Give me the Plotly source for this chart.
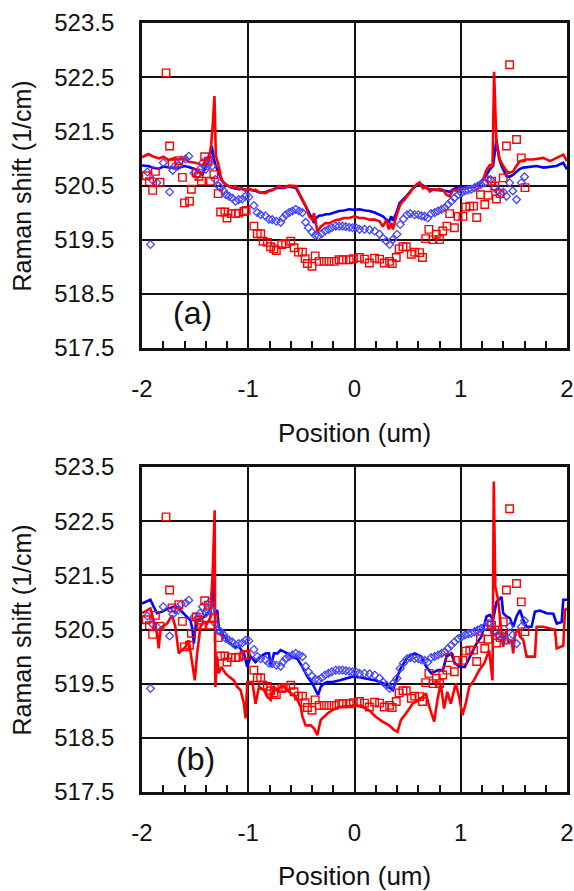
import plotly.graph_objects as go

# ---------------- data ----------------
# panel (a) red line
ra_x = [-2.0, -1.97, -1.94, -1.9, -1.84, -1.8, -1.75, -1.7, -1.65, -1.6, -1.56, -1.5, -1.46, -1.43, -1.40, -1.37,
        -1.35, -1.335, -1.318, -1.305, -1.29, -1.277, -1.26, -1.245, -1.22, -1.198, -1.17, -1.151, -1.12, -1.088,
        -1.06, -1.025, -0.99, -0.962, -0.93, -0.899, -0.87, -0.836, -0.80, -0.774, -0.74, -0.711, -0.68, -0.648,
        -0.62, -0.585, -0.553, -0.522, -0.491, -0.459, -0.428, -0.396, -0.381, -0.349, -0.318, -0.29, -0.270,
        -0.24, -0.208, -0.18, -0.145, -0.1, -0.05, 0.0, 0.044, 0.09, 0.142, 0.19, 0.236, 0.267, 0.299, 0.324,
        0.346, 0.362, 0.393, 0.425, 0.45, 0.472, 0.50, 0.519, 0.55, 0.582, 0.613, 0.645, 0.676, 0.708, 0.74,
        0.770, 0.80, 0.833, 0.865, 0.896, 0.928, 0.96, 0.991, 1.04, 1.085, 1.12, 1.148, 1.18, 1.211, 1.242,
        1.274, 1.299, 1.314, 1.336, 1.368, 1.399, 1.447, 1.494, 1.52, 1.557, 1.619, 1.682, 1.73, 1.777, 1.840,
        1.903, 1.965, 2.0]
ra_y = [521.02, 521.05, 521.08, 521.04, 521.0, 521.03, 520.97, 521.0, 520.98, 521.0, 520.94, 520.92, 520.9,
        520.86, 520.98, 521.0, 521.23, 521.6, 522.15, 521.05, 520.95, 520.86, 520.68, 520.58, 520.53, 520.5,
        520.47, 520.46, 520.49, 520.43, 520.45, 520.40, 520.44, 520.41, 520.42, 520.38, 520.37, 520.36, 520.40,
        520.41, 520.45, 520.49, 520.46, 520.47, 520.5, 520.49, 520.49, 520.36, 520.24, 520.12, 519.93, 519.87,
        519.99, 519.65, 519.74, 519.78, 519.81, 519.8, 519.84, 519.86, 519.87, 519.9, 519.9, 519.93, 519.9,
        519.9, 519.87, 519.87, 519.84, 519.74, 519.86, 519.69, 519.81, 519.69, 519.93, 520.12, 520.2, 520.24,
        520.32, 520.36, 520.45, 520.52, 520.56, 520.45, 520.48, 520.39, 520.43, 520.42, 520.44, 520.42, 520.33,
        520.30, 520.42, 520.4, 520.45, 520.44, 520.48, 520.47, 520.5, 520.55, 520.61, 520.79, 520.88, 520.85,
        522.6, 521.29, 520.98, 520.86, 520.73, 520.76, 520.85, 520.95, 520.98, 520.98, 521.0, 521.01, 520.95,
        521.01, 521.07, 520.95]

# panel (a) blue line
ba_x = [-2.0, -1.97, -1.94, -1.9, -1.84, -1.8, -1.75, -1.7, -1.65, -1.6, -1.56, -1.5, -1.46, -1.43, -1.40, -1.37,
        -1.343, -1.325, -1.305, -1.277, -1.25, -1.23, -1.2, -1.151, -1.12, -1.088, -1.06, -1.025, -0.99, -0.962,
        -0.93, -0.899, -0.87, -0.836, -0.8, -0.774, -0.74, -0.711, -0.68, -0.648, -0.62, -0.585, -0.553, -0.522,
        -0.491, -0.459, -0.428, -0.396, -0.381, -0.36, -0.334, -0.3, -0.27, -0.24, -0.2, -0.145, -0.1, -0.05,
        0.0, 0.047, 0.1, 0.142, 0.19, 0.236, 0.267, 0.299, 0.324, 0.346, 0.362, 0.393, 0.425, 0.487, 0.519,
        0.55, 0.582, 0.613, 0.645, 0.676, 0.708, 0.77, 0.833, 0.865, 0.896, 0.928, 0.959, 1.0, 1.085, 1.15,
        1.211, 1.242, 1.274, 1.305, 1.336, 1.36, 1.384, 1.431, 1.46, 1.494, 1.55, 1.588, 1.65, 1.714, 1.78,
        1.84, 1.9, 1.965, 2.0]
ba_y = [520.87, 520.86, 520.86, 520.83, 520.81, 520.85, 520.84, 520.82, 520.83, 520.86, 520.84, 520.8, 520.74,
        520.7, 520.85, 520.98, 521.23, 521.0, 520.86, 520.73, 520.6, 520.55, 520.5, 520.46, 520.45, 520.43,
        520.44, 520.42, 520.43, 520.42, 520.4, 520.37, 520.38, 520.38, 520.41, 520.42, 520.45, 520.46, 520.45,
        520.47, 520.48, 520.47, 520.46, 520.35, 520.24, 520.12, 520.0, 519.87, 519.81, 519.9, 519.94, 519.95,
        519.97, 519.97, 520.0, 520.03, 520.04, 520.06, 520.05, 520.06, 520.04, 520.03, 520.0, 519.96, 519.93,
        519.87, 519.83, 519.93, 519.85, 519.99, 520.18, 520.3, 520.38, 520.45, 520.49, 520.54, 520.5, 520.45,
        520.43, 520.42, 520.41, 520.4, 520.38, 520.43, 520.46, 520.46, 520.47, 520.5, 520.61, 520.7, 520.8,
        520.86, 521.35, 521.0, 520.86, 520.67, 520.66, 520.7, 520.8, 520.83, 520.84, 520.86, 520.83, 520.84,
        520.86, 520.92, 520.8]

# panel (b) red line
rb_x = [-2.0, -1.969, -1.921, -1.89, -1.858, -1.843, -1.825, -1.811, -1.764, -1.717, -1.686, -1.654, -1.623,
        -1.591, -1.56, -1.528, -1.503, -1.481, -1.45, -1.418, -1.387, -1.355, -1.333, -1.316, -1.31, -1.292,
        -1.277, -1.252, -1.214, -1.182, -1.135, -1.104, -1.072, -1.041, -1.025, -1.009, -0.962, -0.931, -0.899,
        -0.852, -0.821, -0.789, -0.758, -0.726, -0.679, -0.616, -0.553, -0.506, -0.49, -0.46, -0.412, -0.38,
        -0.35, -0.318, -0.286, -0.255, -0.208, -0.145, -0.082, 0.0, 0.075, 0.138, 0.2, 0.264, 0.327, 0.374,
        0.405, 0.437, 0.484, 0.547, 0.61, 0.673, 0.704, 0.75, 0.78, 0.811, 0.843, 0.874, 0.906, 0.953, 0.984,
        1.016, 1.047, 1.079, 1.126, 1.173, 1.22, 1.267, 1.299, 1.311, 1.325, 1.352, 1.37, 1.399, 1.431, 1.447,
        1.478, 1.494, 1.51, 1.541, 1.557, 1.588, 1.62, 1.651, 1.698, 1.714, 1.777, 1.84, 1.887, 1.903, 1.965,
        1.981, 2.0]
rb_y = [520.8, 520.83, 520.89, 520.67, 520.43, 520.15, 520.5, 520.55, 520.61, 520.76, 520.55, 520.06, 520.12,
        520.18, 520.3, 519.93, 519.56, 520.06, 520.55, 520.64, 520.61, 520.73, 521.66, 522.7, 519.44, 520.0,
        519.69, 519.81, 519.69, 519.63, 519.56, 519.44, 519.38, 519.13, 518.86, 519.53, 519.53, 519.13, 519.44,
        519.38, 519.26, 519.2, 519.44, 519.38, 519.47, 519.35, 519.26, 519.07, 518.89, 518.73, 518.73, 518.67,
        518.55, 518.83, 518.89, 518.95, 519.01, 519.07, 519.08, 519.1, 519.07, 519.01, 518.89, 518.8, 518.73,
        518.64, 518.61, 518.83, 518.95, 519.13, 519.2, 519.32, 519.07, 518.8, 519.2, 519.5, 519.04, 519.35,
        519.13, 519.5, 519.26, 518.92, 519.13, 519.44, 519.57, 519.75, 519.87, 520.12, 519.56, 523.23, 521.3,
        521.04, 520.7, 520.18, 520.49, 520.24, 520.31, 520.06, 520.43, 520.49, 520.37, 520.31, 520.0, 520.0,
        520.0, 520.55, 520.55, 520.52, 520.5, 520.15, 520.2, 520.86, 520.89]

# panel (b) blue line
bb_x = [-2.0, -1.969, -1.921, -1.89, -1.858, -1.811, -1.748, -1.686, -1.639, -1.591, -1.544, -1.525, -1.512,
        -1.49, -1.434, -1.387, -1.355, -1.333, -1.314, -1.292, -1.277, -1.245, -1.198, -1.135, -1.088, -1.041,
        -1.009, -0.978, -0.931, -0.883, -0.836, -0.805, -0.789, -0.758, -0.726, -0.695, -0.664, -0.632, -0.6,
        -0.537, -0.491, -0.443, -0.396, -0.365, -0.343, -0.318, -0.286, -0.255, -0.208, -0.145, -0.082, -0.02,
        0.044, 0.11, 0.2, 0.267, 0.33, 0.362, 0.425, 0.503, 0.566, 0.629, 0.676, 0.723, 0.786, 0.833, 0.865,
        0.912, 0.943, 0.991, 1.038, 1.085, 1.148, 1.195, 1.242, 1.274, 1.305, 1.336, 1.384, 1.399, 1.431,
        1.462, 1.494, 1.525, 1.557, 1.588, 1.619, 1.667, 1.698, 1.745, 1.808, 1.871, 1.903, 1.95, 1.965, 2.0]
bb_y = [520.98, 521.01, 521.05, 520.92, 520.8, 520.83, 520.89, 520.93, 520.86, 520.76, 520.67, 520.5, 520.24,
        520.67, 520.7, 520.79, 520.86, 521.4, 520.79, 520.86, 520.55, 520.43, 520.3, 520.18, 520.18, 520.06,
        519.81, 520.0, 519.9, 520.0, 520.06, 520.06, 519.81, 520.06, 520.06, 520.12, 520.09, 520.06, 520.0,
        519.96, 519.81, 519.63, 519.5, 519.38, 519.29, 519.44, 519.5, 519.53, 519.53, 519.56, 519.6, 519.63,
        519.62, 519.6, 519.56, 519.51, 519.42, 519.38, 519.75, 520.0, 520.06, 520.0, 519.81, 519.69, 519.75,
        519.75, 520.0, 520.06, 519.88, 519.81, 519.81, 520.0, 520.24, 520.37, 520.74, 520.77, 520.68, 521.01,
        521.1, 520.8, 520.74, 520.71, 520.55, 520.74, 520.86, 520.68, 520.55, 520.55, 520.83, 520.85, 520.8,
        520.79, 520.61, 520.64, 521.05, 521.05]

# red open squares (same in both panels)
sq_x = [-1.96, -1.93, -1.90, -1.874, -1.83, -1.774, -1.74, -1.717, -1.654, -1.62, -1.60, -1.553, -1.535, -1.49,
        -1.465, -1.44, -1.41, -1.377, -1.355, -1.324, -1.283, -1.26, -1.22, -1.2, -1.16, -1.12, -1.09, -1.04,
        -1.02, -0.947, -0.915, -0.883, -0.86, -0.82, -0.79, -0.758, -0.736, -0.685, -0.648, -0.6, -0.569,
        -0.528, -0.49, -0.465, -0.443, -0.4, -0.37, -0.333, -0.286, -0.24, -0.192, -0.145, -0.108, -0.05,
        -0.01, 0.047, 0.094, 0.14, 0.189, 0.236, 0.28, 0.33, 0.355, 0.393, 0.42, 0.456, 0.487, 0.535, 0.566,
        0.613, 0.64, 0.67, 0.70, 0.74, 0.77, 0.8, 0.83, 0.87, 0.896, 0.94, 0.975, 1.02, 1.047, 1.085, 1.12,
        1.15, 1.186, 1.226, 1.258, 1.29, 1.32, 1.336, 1.37, 1.4, 1.43, 1.46, 1.525, 1.57, 1.604]
sq_y = [520.68, 520.57, 520.41, 520.76, 520.56, 522.58, 521.23, 520.9, 520.96, 520.65, 520.18, 520.21, 520.43,
        520.73, 520.67, 520.58, 521.03, 520.95, 520.58, 520.7, 520.35, 520.01, 520.01, 519.9, 519.98, 519.98,
        519.99, 520.02, 520.04, 519.75, 519.61, 519.61, 519.47, 519.45, 519.37, 519.33, 519.3, 519.41, 519.43,
        519.47, 519.35, 519.27, 519.27, 519.15, 519.06, 519.01, 519.2, 519.1, 519.1, 519.1, 519.1, 519.13,
        519.13, 519.13, 519.15, 519.17, 519.14, 519.07, 519.16, 519.14, 519.07, 519.1, 519.06, 519.17, 519.33,
        519.37, 519.37, 519.23, 519.27, 519.26, 519.17, 519.52, 519.69, 519.5, 519.6, 519.5, 519.66, 519.75,
        519.98, 519.72, 519.93, 519.93, 520.1, 520.12, 520.12, 519.91, 520.33, 520.15, 520.32, 520.58, 520.49,
        520.25, 520.35, 520.64, 521.23, 522.73, 521.35, 521.01, 520.46]

# blue open diamonds (same in both panels)
dm_x = [-1.95, -1.92, -1.9, -1.86, -1.8, -1.74, -1.71, -1.69, -1.66, -1.63, -1.59, -1.56, -1.51, -1.48, -1.455,
        -1.43, -1.40, -1.385, -1.365, -1.34, -1.31, -1.28, -1.26, -1.23, -1.21, -1.18, -1.15, -1.12, -1.09,
        -1.057, -1.025, -0.994, -0.947, -0.915, -0.883, -0.84, -0.805, -0.774, -0.736, -0.695, -0.673, -0.648,
        -0.616, -0.585, -0.553, -0.522, -0.49, -0.46, -0.434, -0.4, -0.37, -0.34, -0.308, -0.277, -0.245,
        -0.214, -0.176, -0.145, -0.113, -0.082, -0.05, -0.02, 0.013, 0.047, 0.094, 0.142, 0.19, 0.236, 0.267,
        0.3, 0.33, 0.36, 0.4, 0.43, 0.46, 0.494, 0.525, 0.566, 0.6, 0.63, 0.66, 0.69, 0.72, 0.755, 0.786, 0.82,
        0.85, 0.88, 0.91, 0.94, 0.975, 1.005, 1.04, 1.07, 1.10, 1.13, 1.16, 1.19, 1.226, 1.255, 1.28, 1.32,
        1.35, 1.38, 1.40, 1.43, 1.46, 1.49, 1.525, 1.57, 1.6]
dm_y = [520.75, 519.41, 520.6, 520.55, 520.92, 520.38, 520.78, 520.86, 520.86, 520.97, 520.99, 521.04, 520.73,
        520.7, 520.8, 520.92, 520.8, 520.86, 521.0, 520.86, 520.61, 520.49, 520.46, 520.4, 520.33, 520.3,
        520.27, 520.21, 520.24, 520.25, 520.3, 520.29, 520.13, 520.0, 519.96, 519.94, 519.88, 519.87, 519.84,
        519.82, 519.9, 519.96, 520.0, 520.03, 520.06, 520.03, 520.0, 519.82, 519.72, 519.64, 519.58, 519.57,
        519.61, 519.66, 519.69, 519.72, 519.75, 519.75, 519.75, 519.74, 519.73, 519.72, 519.72, 519.69, 519.69,
        519.68, 519.66, 519.6, 519.53, 519.47, 519.41, 519.5, 519.6, 519.78, 519.88, 519.96, 519.98, 519.96,
        519.96, 519.94, 519.93, 519.9, 519.98, 520.0, 520.03, 520.06, 520.09, 520.15, 520.21, 520.27, 520.33,
        520.36, 520.4, 520.42, 520.43, 520.46, 520.49, 520.52, 520.55, 520.61, 520.61, 520.46, 520.4, 520.34,
        520.38, 520.3, 520.55, 520.4, 520.24, 520.55, 520.66]

y_ticks = [517.5, 518.5, 519.5, 520.5, 521.5, 522.5, 523.5]
x_ticks = [-2, -1, 0, 1, 2]
panel_labels = ["(a)", "(b)"]
x_title = "Position (um)"
y_title = "Raman shift (1/cm)"

# ---------------- figure ----------------
RED = "#ff0000"
BLUE = "#0000ff"
DIAM = "#4646ff"
FONT = "Liberation Sans, Arial, sans-serif"
INK = "#111111"

fig = go.Figure()

panels = [
    ("x", "y", ra_x, ra_y, ba_x, ba_y),
    ("x2", "y2", rb_x, rb_y, bb_x, bb_y),
]
for xa, ya, rx, ry, bx, by in panels:
    fig.add_trace(go.Scatter(x=bx, y=by, mode="lines", line=dict(color=BLUE, width=2.6),
                             xaxis=xa, yaxis=ya, showlegend=False))
    fig.add_trace(go.Scatter(x=rx, y=ry, mode="lines", line=dict(color=RED, width=2.6),
                             xaxis=xa, yaxis=ya, showlegend=False))
    fig.add_trace(go.Scatter(x=dm_x, y=dm_y, mode="markers",
                             marker=dict(symbol="diamond-open", size=6, color=DIAM, line=dict(width=1.3, color=DIAM)),
                             xaxis=xa, yaxis=ya, showlegend=False))
    fig.add_trace(go.Scatter(x=sq_x, y=sq_y, mode="markers",
                             marker=dict(symbol="square-open", size=7.5, color=RED, line=dict(width=1.4, color=RED)),
                             xaxis=xa, yaxis=ya, showlegend=False))

H = 891
top, bottom = 23, 99
plot_h = H - top - bottom  # 769
def pyp(py):
    return (H - bottom - py) / plot_h

xa_common = dict(range=[-2, 2], tickvals=x_ticks, ticktext=[str(v) for v in x_ticks],
                 showgrid=True, gridcolor=INK, gridwidth=1.7,
                 showline=True, linecolor=INK, linewidth=2.8, mirror=True,
                 ticks="inside", ticklen=7, tickwidth=1.8, tickcolor=INK,
                 minor=dict(dtick=0.2, tick0=0, ticks="inside", ticklen=7, tickwidth=1.8, tickcolor=INK, showgrid=False),
                 tickfont=dict(family=FONT, size=24, color=INK), ticklabelstandoff=17,
                 zeroline=False, fixedrange=True, automargin=False)
ya_common = dict(range=[517.5, 523.5], tickvals=y_ticks, ticktext=["%.1f" % v for v in y_ticks],
                 showgrid=True, gridcolor=INK, gridwidth=1.7,
                 showline=True, linecolor=INK, linewidth=2.8, mirror=True,
                 ticks="inside", ticklen=7, tickwidth=2.2, tickcolor=INK,
                 tickfont=dict(family=FONT, size=24, color=INK), ticklabelstandoff=20,
                 zeroline=False, fixedrange=True, automargin=False)

fig.update_layout(
    width=574, height=H,
    margin=dict(l=142, r=7, t=top, b=bottom, autoexpand=False),
    paper_bgcolor="white", plot_bgcolor="white",
    xaxis=dict(domain=[0, 1], anchor="y", **xa_common),
    yaxis=dict(domain=[pyp(348), 1.0], anchor="x", **ya_common),
    xaxis2=dict(domain=[0, 1], anchor="y2", **xa_common),
    yaxis2=dict(domain=[0.0, pyp(467)], anchor="x2", **ya_common),
    showlegend=False,
)

ann_font = dict(family=FONT, size=26, color=INK)
for yc_plot, ytitle_py in [((23 + 348) / 2, 433), ((467 + 792) / 2, 876)]:
    fig.add_annotation(text=x_title, xref="paper", yref="paper", x=0.5, y=pyp(ytitle_py),
                       xanchor="center", yanchor="middle", showarrow=False, font=ann_font)
    fig.add_annotation(text=y_title, xref="paper", yref="paper", x=(21 - 142) / 425, y=pyp(yc_plot),
                       xanchor="center", yanchor="middle", textangle=-90, showarrow=False,
                       font=dict(family=FONT, size=25, color=INK))
for label, lx, ly in [(panel_labels[0], 192, 313), (panel_labels[1], 195, 759)]:
    fig.add_annotation(text=label, xref="paper", yref="paper", x=(lx - 142) / 425, y=pyp(ly),
                       xanchor="center", yanchor="middle", showarrow=False,
                       font=dict(family=FONT, size=32, color=INK))

fig.write_html("out.html",
               config={"displayModeBar": False},
               post_script="document.body.style.margin='0';document.body.style.padding='0';"
                           "document.body.style.overflow='hidden';")
